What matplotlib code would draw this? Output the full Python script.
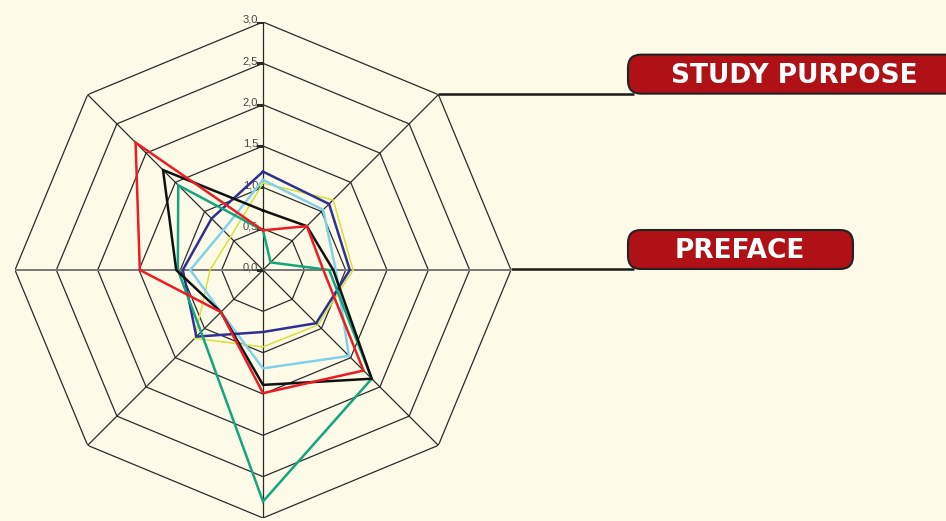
import numpy as np
import matplotlib
matplotlib.use("Agg")
import matplotlib.pyplot as plt
from matplotlib.patches import FancyBboxPatch

# data: 8 axes, clockwise from top
n_axes = 8
levels = [0.0, 0.5, 1.0, 1.5, 2.0, 2.5, 3.0]
level_labels = ["0,0", "0,5", "1,0", "1,5", "2,0", "2,5", "3,0"]

red = [0.48, 0.75, 0.73, 1.72, 1.49, 0.72, 1.49, 2.18]
black = [0.72, 0.75, 0.85, 1.86, 1.39, 0.72, 1.05, 1.71]
green = [0.48, 0.13, 0.80, 1.86, 2.80, 1.06, 1.03, 1.45]
darkblue = [1.19, 1.13, 1.05, 0.91, 0.75, 1.14, 0.97, 0.88]
lightblue = [1.09, 1.03, 0.88, 1.47, 1.19, 0.72, 0.88, 0.68]
yellow = [1.05, 1.20, 1.09, 0.94, 0.93, 1.17, 0.64, 0.56]

series = [
    (yellow, "#d6df3c", 1.1),
    (lightblue, "#80d2ea", 1.8),
    (darkblue, "#2e3192", 1.8),
    (green, "#13a57c", 1.8),
    (black, "#111111", 1.8),
    (red, "#ec1c24", 1.8),
]

badges = ["STUDY PURPOSE", "PREFACE"]
badge_axis = [1, 2]  # which spoke each badge hangs from

bg = "#fdfbe8"
W, H = 946, 521

fig = plt.figure(figsize=(W / 100, H / 100), dpi=100, facecolor=bg)

# polar axes: centre (263,270), radius 248 px
cx, cy, R = 263, 270, 248
ax = fig.add_axes([(cx - R) / W, (H - cy - R) / H, 2 * R / W, 2 * R / H],
                  projection="polar")
ax.set_facecolor("none")
ax.set_theta_zero_location("N")
ax.set_theta_direction(-1)
ax.set_ylim(0, 3.0)
ax.grid(False)
ax.spines["polar"].set_visible(False)
ax.set_xticks([])
ax.set_yticks([])

theta = np.arange(n_axes) * 2 * np.pi / n_axes
theta_c = np.append(theta, theta[0])

# octagon rings
for lv in levels[1:]:
    ax.plot(theta_c, [lv] * (n_axes + 1), color="#2a2a2a", lw=0.9, zorder=1)
# spokes
for i, t in enumerate(theta):
    col = "#777777" if i in (2, 6) else "#2a2a2a"
    lw = 1.4 if i in (2, 6) else 0.9
    ax.plot([t, t], [0, 3.0], color=col, lw=lw, zorder=1)

# value labels along top spoke
ax.plot([0] * len(levels), levels, ls="none", marker=0, ms=5, mew=0.9,
        color="#2a2a2a", zorder=2)
for lv, lab in zip(levels, level_labels):
    ax.annotate(lab, xy=(0, lv), xytext=(-3.5, 1.5), textcoords="offset points",
                ha="right", va="center", fontsize=8, color="#444444",
                family="Liberation Sans", zorder=3)

for vals, col, lw in series:
    v = np.append(vals, vals[0])
    ax.plot(theta_c, v, color=col, lw=lw, zorder=4, solid_joinstyle="miter")

# overlay in pixel coords for badges + connectors
ov = fig.add_axes([0, 0, 1, 1])
ov.set_xlim(0, W)
ov.set_ylim(H, 0)
ov.axis("off")
ov.patch.set_alpha(0)

fig.canvas.draw()
to_px = ov.transData.inverted()

badge_left = 628
badge_h = 40
badge_right = [960, 853]
text_x = [794, 740]
for lab, ai, right, tx in zip(badges, badge_axis, badge_right, text_x):
    x0, y0 = to_px.transform(ax.transData.transform((theta[ai], 3.0)))
    ov.plot([x0, badge_left + 6], [y0 - 1, y0 - 1], color="#1a1a1a", lw=1.8,
            zorder=1, solid_capstyle="butt")
    top = y0 - badge_h
    box = FancyBboxPatch((badge_left, top), right - badge_left, badge_h - 1,
                         boxstyle="round,pad=0,rounding_size=13",
                         fc="#b01117", ec="#222222", lw=1.5, zorder=2)
    ov.add_patch(box)
    ov.text(tx, top + badge_h / 2 + 1, lab, ha="center", va="center",
            color="white", fontsize=19, fontweight="bold",
            family="DejaVu Sans", zorder=3)

fig.savefig("out.png", dpi=100, facecolor=bg)
